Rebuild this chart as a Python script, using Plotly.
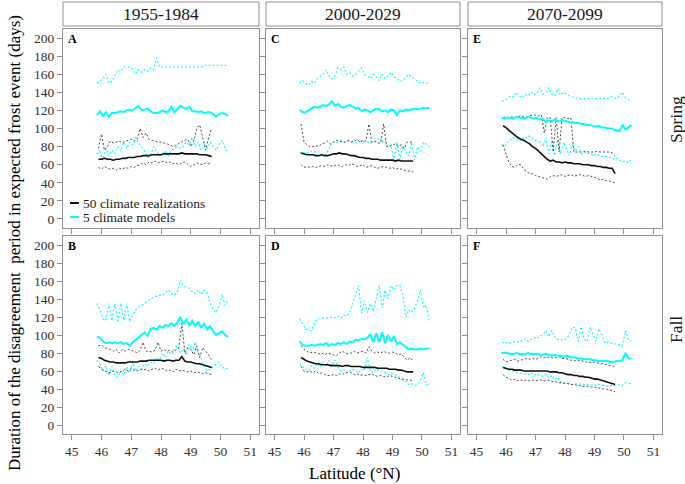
import plotly.graph_objects as go

# ---------------- data ----------------
LAT_R = [45.9, 46.0, 46.1, 46.2, 46.3, 46.4, 46.5, 46.6, 46.7, 46.8,
         46.9, 47.0, 47.1, 47.2, 47.3, 47.4, 47.5, 47.6, 47.7, 47.8,
         47.9, 48.0, 48.1, 48.2, 48.3, 48.4, 48.5, 48.6, 48.7, 48.8,
         48.9, 49.0, 49.1, 49.2, 49.3, 49.4, 49.5, 49.6, 49.7]
LAT_M = [45.85, 45.95, 46.05, 46.15, 46.25, 46.35, 46.45, 46.55, 46.65, 46.75,
         46.85, 46.95, 47.05, 47.15, 47.25, 47.35, 47.45, 47.55, 47.65, 47.75,
         47.85, 47.95, 48.05, 48.15, 48.25, 48.35, 48.45, 48.55, 48.65, 48.75,
         48.85, 48.95, 49.05, 49.15, 49.25, 49.35, 49.45, 49.55, 49.65, 49.75,
         49.85, 49.95, 50.05, 50.15, 50.25]

PERIODS = ["1955-1984", "2000-2029", "2070-2099"]
SEASONS = ["Spring", "Fall"]
LETTERS = [["A", "C", "E"], ["B", "D", "F"]]

# Panel A: Spring 1955-1984
A_real_mean = [66, 66, 67, 66, 66, 65, 66, 66, 67, 67, 68, 68, 68, 69, 69, 70, 70, 70, 71, 71,
               71, 71, 72, 72, 72, 72, 72, 72, 73, 72, 72, 72, 72, 72, 71, 71, 71, 70, 69]
A_real_hi = [78, 94, 76, 80, 86, 84, 85, 86, 84, 86, 87, 88, 86, 88, 100, 90, 95, 88, 87, 86,
             85, 85, 84, 83, 82, 80, 81, 84, 85, 87, 88, 80, 86, 100, 104, 90, 76, 90, 100]
A_real_lo = [57, 55, 58, 56, 55, 56, 54, 56, 55, 57, 56, 58, 57, 59, 60, 62, 60, 63, 62, 64,
             62, 63, 64, 62, 63, 61, 62, 60, 62, 63, 60, 58, 60, 62, 61, 60, 62, 61, 60]
A_mod_mean = [115, 119, 114, 118, 113, 117, 117, 118, 119, 118, 120, 121, 120, 123, 125, 120, 121, 122, 119, 117,
              117, 118, 120, 118, 119, 124, 118, 121, 125, 123, 122, 124, 119, 119, 118, 119, 117, 118, 118, 116,
              113, 116, 117, 116, 114]
A_mod_hi = [150, 153, 155, 160, 150, 152, 158, 165, 163, 168, 168, 168, 166, 160, 165, 162, 165, 163, 167, 165,
            178, 168, 168, 168, 168, 168, 168, 168, 168, 168, 168, 168, 168, 168, 168, 168, 170, 170, 170, 170,
            170, 170, 170, 170, 170]
A_mod_lo = [72, 75, 65, 78, 70, 76, 72, 80, 75, 85, 78, 85, 82, 90, 84, 80, 75, 68, 70, 80,
            75, 70, 72, 75, 70, 76, 78, 80, 78, 80, 85, 82, 90, 80, 85, 76, 82, 78, 85, 80,
            76, 82, 87, 78, 74]

# Panel C: Spring 2000-2029
C_real_mean = [73, 72, 71, 71, 71, 70, 70, 71, 70, 70, 71, 72, 72, 73, 72, 72, 71, 70, 70, 69,
               68, 68, 67, 67, 66, 66, 66, 65, 65, 65, 65, 65, 64, 65, 64, 64, 64, 64, 64]
C_real_hi = [105, 85, 82, 80, 80, 81, 80, 83, 84, 86, 83, 85, 87, 86, 85, 85, 87, 85, 86, 88,
             85, 87, 86, 105, 85, 86, 84, 84, 105, 80, 80, 82, 83, 80, 82, 78, 85, 85, 85]
C_real_lo = [60, 57, 58, 57, 58, 57, 58, 59, 58, 60, 59, 58, 60, 59, 58, 60, 59, 61, 60, 58,
             59, 60, 57, 58, 59, 57, 56, 57, 58, 57, 56, 57, 55, 56, 55, 54, 53, 53, 52]
C_mod_mean = [121, 118, 118, 120, 122, 124, 123, 124, 126, 125, 127, 130, 125, 127, 124, 123, 125, 126, 124, 122,
              123, 119, 121, 120, 118, 120, 122, 121, 119, 120, 118, 121, 120, 115, 120, 119, 121, 120, 121, 122,
              121, 122, 123, 122, 123]
C_mod_hi = [150, 153, 150, 148, 152, 150, 155, 158, 160, 165, 158, 155, 158, 167, 165, 168, 160, 162, 158, 160,
            163, 167, 160, 158, 155, 160, 157, 153, 160, 155, 158, 162, 157, 155, 152, 153, 156, 160, 157, 155,
            152, 150, 151, 150, 150]
C_mod_lo = [74, 72, 74, 73, 75, 74, 75, 73, 70, 72, 78, 85, 85, 84, 86, 85, 85, 86, 85, 84,
            85, 86, 85, 85, 84, 85, 86, 90, 85, 87, 80, 82, 65, 85, 66, 80, 75, 70, 85, 65,
            80, 75, 85, 82, 80]

# Panel E: Spring 2070-2099
E_real_mean = [103, 101, 98, 95, 92, 90, 88, 87, 85, 83, 80, 78, 75, 72, 68, 66, 64, 65, 63, 63,
               62, 63, 62, 62, 61, 61, 61, 60, 60, 60, 59, 59, 58, 58, 57, 57, 56, 56, 50]
E_real_hi = [112, 113, 112, 113, 112, 113, 114, 113, 113, 114, 115, 115, 114, 115, 95, 112, 112, 74, 112, 74,
             112, 112, 111, 112, 74, 74, 74, 74, 75, 74, 74, 74, 75, 74, 74, 74, 74, 73, 70]
E_real_lo = [82, 72, 62, 58, 57, 60, 60, 55, 52, 50, 50, 48, 47, 46, 45, 44, 47, 48, 47, 48,
             49, 47, 48, 49, 47, 48, 49, 48, 47, 48, 47, 46, 45, 43, 44, 42, 42, 41, 40]
E_mod_mean = [112, 111, 112, 112, 111, 113, 112, 112, 111, 113, 112, 111, 112, 110, 111, 107, 109, 108, 110, 108,
              108, 109, 108, 107, 107, 106, 106, 105, 105, 104, 104, 103, 102, 103, 101, 101, 100, 100, 99, 98,
              97, 104, 99, 101, 104]
E_mod_hi = [130, 131, 133, 136, 135, 140, 136, 134, 138, 136, 140, 137, 139, 145, 138, 140, 145, 138, 136, 144,
            137, 140, 138, 136, 135, 134, 134, 133, 133, 133, 133, 134, 133, 133, 134, 133, 133, 135, 134, 133,
            136, 140, 134, 132, 130]
E_mod_lo = [82, 80, 85, 88, 90, 88, 86, 90, 88, 92, 90, 88, 86, 85, 80, 90, 72, 85, 70, 88,
            72, 85, 78, 70, 82, 75, 80, 72, 74, 72, 73, 70, 72, 70, 69, 70, 68, 68, 66, 67,
            65, 63, 64, 62, 66]

# Panel B: Fall 1955-1984
B_real_mean = [75, 74, 72, 71, 70, 70, 69, 69, 69, 69, 70, 70, 70, 70, 71, 71, 71, 72, 72, 72,
               72, 72, 71, 72, 72, 71, 72, 72, 76, 71, 70, 70, 69, 68, 68, 67, 66, 65, 64]
B_real_hi = [88, 89, 86, 85, 84, 82, 84, 80, 84, 82, 84, 83, 82, 80, 83, 92, 82, 82, 81, 83,
             92, 82, 84, 82, 83, 81, 84, 86, 113, 80, 86, 84, 78, 88, 75, 86, 82, 78, 72]
B_real_lo = [65, 62, 60, 59, 58, 60, 59, 58, 60, 62, 60, 63, 61, 60, 62, 61, 62, 60, 62, 63,
             61, 63, 62, 60, 61, 59, 62, 60, 61, 60, 59, 60, 58, 59, 58, 57, 58, 57, 56]
B_mod_mean = [98, 97, 93, 91, 92, 91, 92, 91, 92, 90, 91, 88, 92, 95, 98, 100, 103, 99, 107, 108,
              106, 110, 108, 111, 110, 113, 110, 114, 120, 112, 117, 111, 116, 110, 115, 108, 113, 106, 110, 104,
              100, 102, 104, 100, 98]
B_mod_hi = [135, 128, 118, 116, 135, 116, 135, 114, 135, 116, 135, 115, 122, 128, 131, 133, 135, 138, 140, 142,
            143, 144, 144, 147, 150, 146, 144, 148, 161, 155, 153, 152, 148, 146, 150, 145, 150, 147, 135, 128,
            125, 132, 145, 133, 138]
B_mod_lo = [72, 68, 60, 65, 55, 65, 55, 53, 60, 55, 65, 58, 70, 60, 65, 62, 68, 65, 70, 68,
            75, 72, 80, 75, 82, 78, 85, 88, 80, 85, 78, 90, 82, 92, 80, 75, 65, 60, 62, 65,
            68, 70, 65, 62, 63]

# Panel D: Fall 2000-2029
D_real_mean = [75, 73, 71, 70, 69, 68, 68, 67, 67, 67, 66, 66, 66, 66, 65, 66, 66, 65, 65, 65,
               65, 64, 64, 64, 64, 64, 63, 63, 63, 63, 62, 62, 62, 61, 61, 60, 59, 59, 59]
D_real_hi = [88, 84, 82, 80, 81, 80, 79, 80, 78, 80, 79, 78, 77, 80, 82, 80, 79, 80, 82, 80,
             81, 82, 80, 87, 82, 80, 81, 80, 82, 80, 80, 81, 80, 78, 79, 76, 72, 75, 71]
D_real_lo = [65, 60, 59, 60, 58, 60, 57, 58, 56, 55, 55, 56, 55, 57, 56, 58, 59, 58, 56, 57,
             55, 56, 55, 56, 57, 55, 54, 55, 54, 53, 55, 54, 53, 52, 51, 51, 50, 50, 49]
D_mod_mean = [93, 89, 88, 88, 89, 88, 89, 90, 89, 91, 88, 90, 89, 91, 90, 92, 90, 93, 92, 95,
              94, 96, 95, 97, 101, 92, 102, 92, 103, 91, 100, 93, 99, 90, 92, 89, 87, 84, 85, 84,
              84, 85, 84, 85, 85]
D_mod_hi = [118, 112, 107, 105, 105, 112, 118, 118, 119, 119, 119, 120, 119, 121, 119, 122, 121, 125, 135, 145,
            155, 124, 138, 125, 135, 126, 140, 155, 130, 150, 140, 155, 150, 155, 155, 145, 120, 128, 125, 130,
            138, 150, 130, 133, 115]
D_mod_lo = [68, 65, 62, 60, 66, 63, 68, 64, 70, 66, 72, 66, 72, 65, 60, 62, 58, 60, 62, 60,
            58, 62, 60, 75, 60, 58, 62, 60, 60, 58, 56, 58, 56, 55, 52, 50, 48, 45, 46, 44,
            45, 50, 58, 45, 44]

# Panel F: Fall 2070-2099
F_real_mean = [64, 63, 62, 62, 61, 61, 61, 60, 60, 60, 60, 60, 60, 60, 60, 60, 59, 59, 59, 58,
               58, 57, 56, 56, 55, 55, 54, 54, 53, 53, 52, 51, 51, 50, 49, 48, 47, 46, 45]
F_real_hi = [73, 70, 71, 72, 73, 71, 72, 73, 74, 73, 74, 73, 74, 76, 75, 75, 76, 74, 75, 76,
             74, 74, 73, 72, 72, 71, 72, 71, 70, 70, 69, 70, 69, 68, 68, 67, 66, 66, 64]
F_real_lo = [56, 53, 52, 50, 51, 49, 50, 49, 50, 49, 50, 49, 50, 50, 49, 50, 49, 48, 48, 47,
             47, 46, 46, 45, 45, 44, 44, 43, 43, 43, 42, 42, 41, 41, 40, 40, 39, 38, 37]
F_mod_mean = [80, 80, 80, 79, 79, 80, 79, 79, 79, 80, 79, 79, 79, 78, 78, 79, 78, 77, 78, 77,
              77, 76, 77, 76, 75, 75, 74, 74, 73, 73, 73, 72, 72, 71, 71, 71, 71, 70, 70, 71,
              71, 72, 80, 74, 74]
F_mod_hi = [92, 91, 92, 91, 92, 93, 92, 94, 96, 93, 95, 97, 96, 99, 100, 105, 98, 105, 98, 95,
            95, 94, 96, 100, 109, 108, 93, 109, 95, 93, 109, 100, 93, 107, 100, 91, 92, 91, 90, 90,
            89, 88, 105, 95, 93]
F_mod_lo = [65, 63, 62, 60, 60, 58, 58, 57, 57, 56, 58, 55, 57, 55, 54, 56, 52, 55, 50, 53,
            48, 47, 46, 46, 45, 46, 45, 46, 45, 45, 44, 45, 44, 45, 44, 44, 43, 44, 44, 44,
            45, 44, 47, 46, 46]

PANELS = {
    (0, 0): (A_real_mean, A_real_hi, A_real_lo, A_mod_mean, A_mod_hi, A_mod_lo),
    (0, 1): (C_real_mean, C_real_hi, C_real_lo, C_mod_mean, C_mod_hi, C_mod_lo),
    (0, 2): (E_real_mean, E_real_hi, E_real_lo, E_mod_mean, E_mod_hi, E_mod_lo),
    (1, 0): (B_real_mean, B_real_hi, B_real_lo, B_mod_mean, B_mod_hi, B_mod_lo),
    (1, 1): (D_real_mean, D_real_hi, D_real_lo, D_mod_mean, D_mod_hi, D_mod_lo),
    (1, 2): (F_real_mean, F_real_hi, F_real_lo, F_mod_mean, F_mod_hi, F_mod_lo),
}

Y_TICKS = [0, 20, 40, 60, 80, 100, 120, 140, 160, 180, 200]
X_TICKS = [45, 46, 47, 48, 49, 50, 51]

# ---------------- layout helpers ----------------
W, H = 685, 484
COL_PX = [(63, 259), (266, 460), (468, 662)]
ROW_PX = [(29, 228), (236, 434)]


def px_x(p):
    return p / W


def px_y(p):
    return 1 - p / H


FONT = "Times New Roman, Liberation Serif, DejaVu Serif, serif"
BORDER = "#8f8f8f"
CYAN = "#00FFFF"
GRAY_DOT = "#4d4d4d"

fig = go.Figure()
layout = {}
annotations = []
shapes = []

for r in range(2):
    for c in range(3):
        idx = r * 3 + c + 1
        xa = "xaxis" if idx == 1 else f"xaxis{idx}"
        ya = "yaxis" if idx == 1 else f"yaxis{idx}"
        xref = "x" if idx == 1 else f"x{idx}"
        yref = "y" if idx == 1 else f"y{idx}"
        x0, x1 = COL_PX[c]
        y0, y1 = ROW_PX[r]
        layout[xa] = dict(
            domain=[px_x(x0), px_x(x1)], anchor=yref, range=[44.71, 51.29],
            tickvals=X_TICKS, ticks="outside", ticklen=5, tickcolor=BORDER,
            showticklabels=(r == 1), showline=True, mirror=True, linecolor=BORDER,
            linewidth=1, showgrid=False, zeroline=False,
            tickfont=dict(family=FONT, size=13.5, color="#333333"), automargin=False,
        )
        layout[ya] = dict(
            domain=[px_y(y1), px_y(y0)], anchor=xref, range=[-10, 210],
            tickvals=Y_TICKS, ticks="outside", ticklen=5, tickcolor=BORDER,
            showticklabels=(c == 0), showline=True, mirror=True, linecolor=BORDER,
            linewidth=1, showgrid=False, zeroline=False,
            tickfont=dict(family=FONT, size=13.5, color="#333333"), automargin=False,
        )
        rm, rh, rl, mm, mh, ml = PANELS[(r, c)]
        for ys, col, wd, dash, lat in [
            (mh, CYAN, 1.1, "2px,2px", LAT_M),
            (ml, CYAN, 1.1, "2px,2px", LAT_M),
            (rh, GRAY_DOT, 1.0, "2px,2px", LAT_R),
            (rl, GRAY_DOT, 1.0, "2px,2px", LAT_R),
            (mm, CYAN, 2.0, "solid", LAT_M),
            (rm, "#111111", 1.6, "solid", LAT_R),
        ]:
            fig.add_trace(go.Scatter(
                x=lat, y=ys, mode="lines", xaxis=xref, yaxis=yref,
                line=dict(color=col, width=wd, dash=dash), showlegend=False,
                hoverinfo="skip",
            ))
        # panel letter
        annotations.append(dict(
            text=f"<b>{LETTERS[r][c]}</b>", xref="paper", yref="paper",
            x=px_x(x0 + 3), y=px_y(y0 + 1), xanchor="left", yanchor="top",
            showarrow=False, font=dict(family=FONT, size=12, color="#000000"),
        ))

# strip headers
for c in range(3):
    x0, x1 = COL_PX[c]
    shapes.append(dict(type="rect", xref="paper", yref="paper",
                       x0=px_x(x0), x1=px_x(x1), y0=px_y(26), y1=px_y(2),
                       line=dict(color=BORDER, width=1), fillcolor="white"))
    annotations.append(dict(text=PERIODS[c], xref="paper", yref="paper",
                            x=px_x((x0 + x1) / 2), y=px_y(14), xanchor="center",
                            yanchor="middle", showarrow=False,
                            font=dict(family=FONT, size=17.5, color="#1a1a1a")))

# row labels
ROW_LABEL_Y = [120, 330]
for r in range(2):
    annotations.append(dict(text=SEASONS[r], xref="paper", yref="paper",
                            x=px_x(676), y=px_y(ROW_LABEL_Y[r]), xanchor="center",
                            yanchor="middle", textangle=-90, showarrow=False,
                            borderpad=0,
                            font=dict(family=FONT, size=17.5, color="#1a1a1a")))

# axis titles
annotations.append(dict(text="Duration of the disagreement  period in expected frost event (days)",
                        xref="paper", yref="paper", x=px_x(14), y=px_y(243),
                        xanchor="center", yanchor="middle", textangle=-90, showarrow=False,
                        borderpad=0,
                        font=dict(family=FONT, size=17, color="#000000")))
annotations.append(dict(text="Latitude (°N)", xref="paper", yref="paper",
                        x=px_x(354), y=px_y(473), xanchor="center", yanchor="middle",
                        showarrow=False, borderpad=0,
                        font=dict(family=FONT, size=17, color="#000000")))

# legend (inside panel A)
LEGEND = [("50 climate realizations", "#111111", 203), ("5 climate models", CYAN, 217)]
for label, col, ypx in LEGEND:
    shapes.append(dict(type="line", xref="paper", yref="paper",
                       x0=px_x(70), x1=px_x(79), y0=px_y(ypx), y1=px_y(ypx),
                       line=dict(color=col, width=2)))
    annotations.append(dict(text=label, xref="paper", yref="paper",
                            x=px_x(82), y=px_y(ypx), xanchor="left", yanchor="middle",
                            showarrow=False, borderpad=0,
                            font=dict(family=FONT, size=13.5, color="#1a1a1a")))

fig.update_layout(
    width=W, height=H, margin=dict(l=0, r=0, t=0, b=0),
    paper_bgcolor="white", plot_bgcolor="white", showlegend=False,
    annotations=annotations, shapes=shapes, **layout,
)

fig.write_html(
    "out.html",
    config={"displayModeBar": False},
    post_script="document.body.style.margin='0';document.body.style.padding='0';",
)
